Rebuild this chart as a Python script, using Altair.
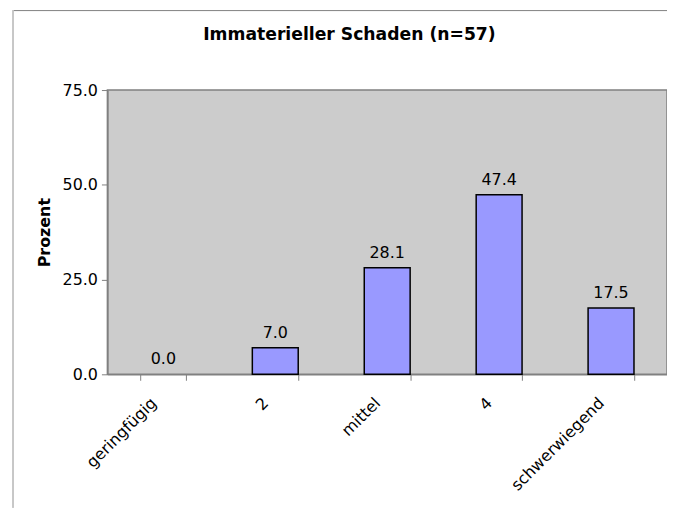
import altair as alt
import pandas as pd

categories = ["geringfügig", "2", "mittel", "4", "schwerwiegend"]
values = [0.0, 7.0, 28.1, 47.4, 17.5]
y_ticks = [0, 25, 50, 75]

df = pd.DataFrame({"Kategorie": categories, "Prozent": values})

FONT = "DejaVu Sans"

x_enc = alt.X(
    "Kategorie:N",
    sort=categories,
    scale=alt.Scale(paddingInner=0.59, paddingOuter=0.295),
    axis=alt.Axis(
        title=None,
        labelAngle=-45,
        labelAlign="right",
        labelBaseline="middle",
        labelPadding=20,
        labelOffset=-10,
        labelFontSize=16,
        labelColor="black",
        labelFont=FONT,
        tickBand="extent",
        tickSize=6,
        tickColor="#808080",
        domainColor="#808080",
        domainWidth=1.5,
    ),
)
y_enc = alt.Y(
    "Prozent:Q",
    scale=alt.Scale(domain=[0, 75], nice=False),
    axis=alt.Axis(
        title="Prozent",
        values=y_ticks,
        format=".1f",
        grid=False,
        labelFontSize=16,
        labelColor="black",
        labelFont=FONT,
        labelPadding=4,
        tickSize=6,
        tickColor="#808080",
        domainColor="#808080",
        domainWidth=1.5,
        titleFont=FONT,
        titleFontSize=16,
        titleFontWeight="bold",
        titleColor="black",
        titlePadding=10,
    ),
)

bars = alt.Chart(df).mark_bar(color="#9999ff", stroke="black").encode(
    x=x_enc,
    y=y_enc,
    strokeWidth=alt.condition(alt.datum.Prozent > 0, alt.value(1.5), alt.value(0)),
)

labels = alt.Chart(df).mark_text(
    dy=-10, baseline="alphabetic", fontSize=16, font=FONT, color="black"
).encode(
    x=alt.X("Kategorie:N", sort=categories),
    y="Prozent:Q",
    text=alt.Text("Prozent:Q", format=".1f"),
)

frame_top = alt.Chart(df).mark_rule(color="#8c8c8c", strokeWidth=1).encode(
    x=alt.value(-95), x2=alt.value(575), y=alt.value(-80)
)
frame_left = alt.Chart(df).mark_rule(color="#c8c8c8", strokeWidth=1.5).encode(
    x=alt.value(-95), y=alt.value(-80), y2=alt.value(420)
)

chart = (
    alt.layer(frame_top, frame_left, bars, labels)
    .properties(
        width=563,
        height=286,
        autosize=alt.AutoSizeParams(type="none"),
        padding={"left": 100, "top": 81, "right": 0, "bottom": 138},
        view=alt.ViewBackground(fill="#cccccc", stroke="#808080", strokeWidth=1.5),
        title=alt.TitleParams(
            "Immaterieller Schaden (n=57)",
            font=FONT,
            fontSize=17.3,
            fontWeight="bold",
            color="black",
            anchor="middle",
            frame="group",
            dx=-38,
            offset=-34,
        ),
    )
    .configure(background="white")
)

chart.save("out.html", embed_options={"renderer": "svg", "actions": False})
